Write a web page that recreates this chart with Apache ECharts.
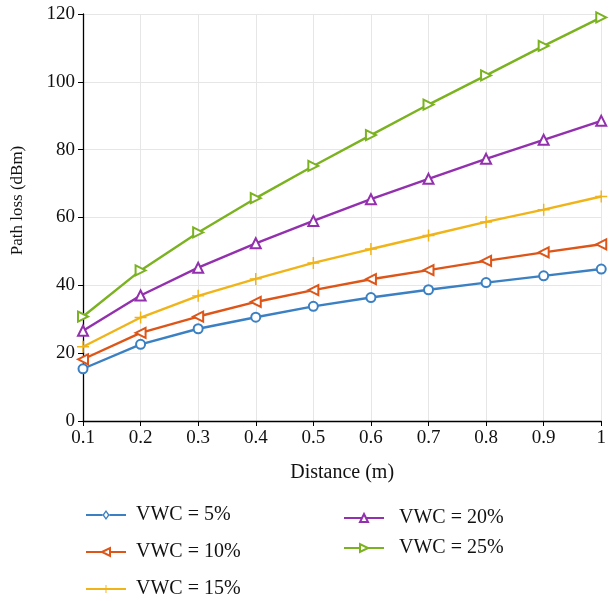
<!DOCTYPE html>
<html><head><meta charset="utf-8">
<script src="https://cdn.jsdelivr.net/npm/echarts@6/dist/echarts.min.js"></script>
<style>html,body{margin:0;padding:0;background:#fff}#c{width:609px;height:601px}</style>
</head><body><div id="c"></div>
<script>
const distances = ['0.1','0.2','0.3','0.4','0.5','0.6','0.7','0.8','0.9','1'];
const vwc5  = [15.4, 22.6, 27.2, 30.6, 33.8, 36.4, 38.7, 40.8, 42.8, 44.8];
const vwc10 = [18.2, 26.0, 30.8, 35.1, 38.6, 41.8, 44.5, 47.2, 49.7, 52.1];
const vwc15 = [21.9, 30.5, 36.9, 41.9, 46.6, 50.7, 54.7, 58.7, 62.3, 66.2];
const vwc20 = [26.6, 37.0, 45.2, 52.4, 59.0, 65.4, 71.4, 77.3, 82.9, 88.5];
const vwc25 = [30.8, 44.4, 55.6, 65.7, 75.2, 84.3, 93.3, 101.9, 110.6, 119.0];
const seriesNames = ['VWC = 5%','VWC = 10%','VWC = 15%','VWC = 20%','VWC = 25%'];
const yTicks = [0,20,40,60,80,100,120];

const colors = ['#3b80c3','#de5518','#f0b419','#9330ad','#7bb21f'];
const font = '"Liberation Serif", "DejaVu Serif", serif';
const plusPath = 'path://M-0.12,-1L0.12,-1L0.12,-0.12L1,-0.12L1,0.12L0.12,0.12L0.12,1L-0.12,1L-0.12,0.12L-1,0.12L-1,-0.12L-0.12,-0.12Z';
const diamondLegendPath = 'path://M0,4.1L16.5,4.1L16.5,5.9L0,5.9Z' +
  'M23.5,4.1L40,4.1L40,5.9L23.5,5.9Z' +
  'M20,0L23.6,5L20,10L16.4,5Z' +
  'M20,2.3L18.1,5L20,7.7L21.9,5Z';
const symbols = [
  {symbol:'emptyCircle', rotate:0, size:9},
  {symbol:'emptyTriangle', rotate:90, size:10},
  {symbol:plusPath, rotate:0, size:12},
  {symbol:'emptyTriangle', rotate:0, size:10},
  {symbol:'emptyTriangle', rotate:-90, size:10}
];
const data = [vwc5, vwc10, vwc15, vwc20, vwc25];

const series = data.map((d,i)=>({
  name: seriesNames[i],
  type:'line',
  data:d,
  symbol: symbols[i].symbol,
  symbolRotate: symbols[i].rotate,
  symbolSize: symbols[i].size,
  showAllSymbol:true,
  clip:false,
  color: colors[i],
  lineStyle:{width:2.4, color: colors[i]},
  itemStyle:{color: colors[i], borderWidth:2.4, borderColor: colors[i]},
  emphasis:{disabled:true},
  animation:false
}));
series[2].itemStyle = {color: colors[2], borderWidth:0};

const chart = echarts.init(document.getElementById('c'));
chart.setOption({
  backgroundColor:'#fff',
  animation:false,
  grid:{left:83, right:6, top:14, bottom:180, containLabel:false},
  xAxis:{
    type:'category', data:distances, boundaryGap:false,
    name:'Distance (m)', nameLocation:'middle', nameGap:42,
    nameTextStyle:{fontFamily:font, fontSize:20, color:'#111'},
    axisLine:{lineStyle:{color:'#000', width:1.3}},
    axisTick:{show:true, length:5, lineStyle:{color:'#000'}},
    axisLabel:{fontFamily:font, fontSize:19, color:'#111', margin:8},
    splitLine:{show:true, lineStyle:{color:'#e6e6e6', width:1}}
  },
  yAxis:{
    type:'value', min:0, max:120, interval:20,
    name:'Path loss (dBm)', nameLocation:'middle', nameGap:57,
    nameTextStyle:{fontFamily:font, fontSize:17, color:'#111', padding:[0,0,0,34]},
    axisLine:{show:true, lineStyle:{color:'#000', width:1.3}},
    axisTick:{show:true, length:5, lineStyle:{color:'#000'}},
    axisLabel:{fontFamily:font, fontSize:19, color:'#111', margin:8,
      formatter:v=> yTicks.includes(v) ? String(v) : ''},
    splitLine:{show:true, lineStyle:{color:'#e6e6e6', width:1}}
  },
  legend:[
    {data:[{name:seriesNames[0], icon:diamondLegendPath, itemStyle:{borderWidth:0}}, seriesNames[1], seriesNames[2]],
     orient:'vertical', left:80, top:500, height:101, itemGap:17, itemWidth:40, itemHeight:10,
     textStyle:{fontFamily:font, fontSize:20, color:'#111', padding:[0,0,0,5]}},
    {data:[seriesNames[3], seriesNames[4]],
     orient:'vertical', left:338, top:503, height:80, itemGap:10, itemWidth:40, itemHeight:10,
     textStyle:{fontFamily:font, fontSize:20, color:'#111', padding:[0,0,0,10]}}
  ],
  series: series
});
</script></body></html>
